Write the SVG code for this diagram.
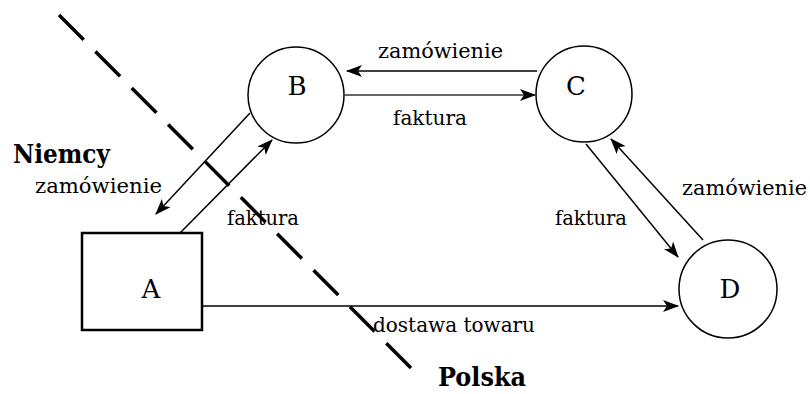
<svg xmlns="http://www.w3.org/2000/svg" width="810" height="394" viewBox="0 0 810 394">
<style>
.node{fill:#fff;stroke:#000;stroke-width:1.5}
.rect{fill:#fff;stroke:#000;stroke-width:2.5}
.nl{font-size:26px;text-anchor:middle;fill:#000}
.lbl{font-size:21px;fill:#000}
.cty{font-size:26px;font-weight:bold;fill:#000}
.edge{stroke:#000;stroke-width:1.5;fill:none;marker-end:url(#ah)}
.border{stroke:#000;stroke-width:3.5;stroke-dasharray:35 16.5;fill:none}
</style>
<defs>
<marker id="ah" viewBox="0 0 16 12" refX="15" refY="6" markerWidth="16" markerHeight="12" markerUnits="userSpaceOnUse" orient="auto">
<path d="M0,0 L16,6 L0,12 L4,6 z" fill="#000"/>
</marker>
</defs>
<rect width="810" height="394" fill="#fff"/>
<g id="border">
<line class="border" x1="59" y1="15" x2="411" y2="368"/>
</g>
<g id="connectors">
<line class="edge" x1="537" y1="71" x2="347" y2="71"/>
<line class="edge" x1="345" y1="95" x2="535" y2="95" style="stroke:#333"/>
<line class="edge" x1="250" y1="113" x2="156" y2="214"/>
<line class="edge" x1="180" y1="233" x2="272" y2="140"/>
<line class="edge" x1="586" y1="144" x2="678" y2="257"/>
<line class="edge" x1="703" y1="240" x2="611" y2="139"/>
<line class="edge" x1="202" y1="306" x2="678" y2="306"/>
</g>
<g font-family="DejaVu Serif, serif">
<g id="node-A">
<rect class="rect" x="82" y="233" width="120" height="97"/>
<text class="nl" x="151" y="298">A</text>
</g>
<g id="node-B">
<circle class="node" cx="296" cy="95" r="48"/>
<text class="nl" x="297" y="95">B</text>
</g>
<g id="node-C">
<circle class="node" cx="584" cy="94" r="48"/>
<text class="nl" x="576" y="95">C</text>
</g>
<g id="node-D">
<circle class="node" cx="728" cy="289" r="49"/>
<text class="nl" x="730" y="298">D</text>
</g>
<g id="labels">
<text class="lbl" x="378" y="58" textLength="125" lengthAdjust="spacingAndGlyphs">zamówienie</text>
<text class="lbl" x="393" y="125" textLength="74" lengthAdjust="spacingAndGlyphs">faktura</text>
<text class="lbl" x="35" y="193" textLength="127" lengthAdjust="spacingAndGlyphs">zamówienie</text>
<text class="lbl" x="227" y="225" textLength="72" lengthAdjust="spacingAndGlyphs">faktura</text>
<text class="lbl" x="682" y="195" textLength="125" lengthAdjust="spacingAndGlyphs">zamówienie</text>
<text class="lbl" x="555" y="225" textLength="72" lengthAdjust="spacingAndGlyphs">faktura</text>
<text class="lbl" x="373" y="332" textLength="162" lengthAdjust="spacingAndGlyphs">dostawa towaru</text>
<text class="cty" x="13" y="163" textLength="97" lengthAdjust="spacingAndGlyphs">Niemcy</text>
<text class="cty" x="438" y="386" textLength="88" lengthAdjust="spacingAndGlyphs">Polska</text>
</g>
</g>
</svg>
